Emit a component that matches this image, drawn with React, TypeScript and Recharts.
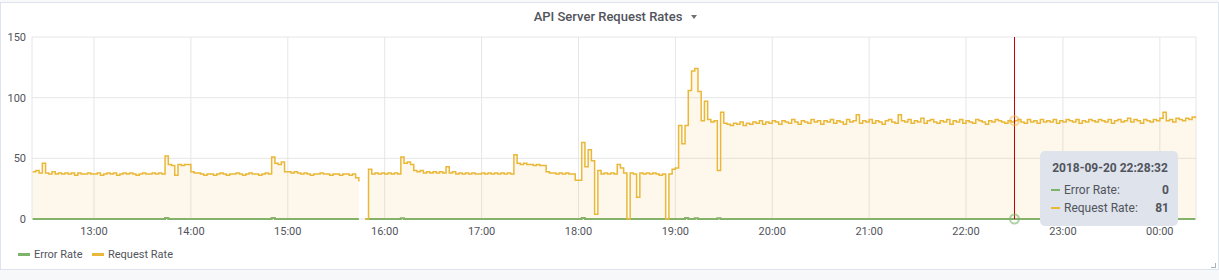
import React from 'react'
import { AreaChart, Area, XAxis, YAxis, CartesianGrid, Tooltip } from 'recharts'

// x values are minutes after 12:00, one sample every 2 minutes (12:22 .. 00:22)
const START_MIN = 22
const STEP_MIN = 2

// requests / s (one row = 1 hour)
const requestRate: (number | null)[] = [
  39, 40, 38, 46, 38, 37, 39, 37, 38, 37, 38, 37, 38, 36, 38, 37, 37, 38, 37, 37, 38, 36, 37, 38, 37, 38, 36, 37, 38, 37,
  38, 37, 36, 37, 38, 37, 37, 38, 37, 38, 37, 52, 45, 44, 36, 45, 44, 45, 45, 39, 38, 38, 37, 36, 37, 37, 36, 37, 38, 37,
  36, 37, 37, 38, 37, 36, 37, 38, 37, 37, 36, 37, 38, 37, 51, 46, 45, 47, 39, 39, 38, 39, 38, 37, 38, 37, 36, 37, 37, 38,
  37, 37, 36, 37, 37, 36, 37, 37, 36, 37, 34, 31, null, 0, 41, 37, 38, 37, 38, 37, 38, 37, 38, 37, 51, 46, 47, 45, 40, 39,
  40, 38, 39, 38, 39, 38, 39, 38, 43, 38, 39, 37, 38, 37, 38, 37, 38, 37, 37, 38, 37, 38, 37, 38, 37, 38, 37, 38, 37, 53,
  46, 45, 46, 45, 45, 44, 45, 44, 44, 39, 38, 38, 37, 38, 37, 38, 37, 37, 32, 32, 63, 43, 57, 48, 4, 40, 37, 38, 37, 38,
  37, 45, 42, 38, 0, 38, 37, 18, 38, 37, 38, 37, 38, 37, 36, 37, 0, 37, 41, 42, 77, 62, 77, 106, 122, 124, 105, 81, 97, 82,
  80, 81, 40, 88, 79, 78, 77, 79, 78, 80, 77, 79, 78, 80, 79, 81, 78, 80, 79, 81, 80, 78, 81, 80, 79, 82, 80, 78, 81, 80,
  79, 82, 80, 81, 78, 81, 80, 82, 79, 81, 80, 78, 82, 80, 81, 86, 79, 81, 80, 82, 79, 81, 80, 78, 81, 82, 80, 79, 86, 81,
  80, 82, 79, 81, 80, 83, 79, 81, 82, 80, 79, 81, 80, 82, 78, 81, 80, 82, 79, 81, 80, 79, 82, 81, 80, 78, 81, 80, 82, 81,
  80, 79, 81, 80, 81, 82, 80, 79, 82, 80, 81, 79, 82, 80, 81, 80, 82, 79, 81, 80, 82, 81, 80, 82, 79, 81, 80, 82, 81, 80,
  82, 81, 80, 82, 79, 81, 82, 80, 81, 83, 80, 82, 81, 79, 82, 81, 80, 82, 81, 83, 88, 81, 82, 80, 83, 82, 81, 83, 82, 84, 83
]

// error rate stays at 0; small blips where the request rate jumps, gap at 15:46
const errorGapAt = [226]
const errorBlips: Record<number, number> = { 104: 0.8, 170: 0.8, 250: 0.6, 362: 0.8, 426: 0.8, 432: 0.6, 446: 0.6 }

const hourTicks = [60, 120, 180, 240, 300, 360, 420, 480, 540, 600, 660, 720]
const valueTicks = [0, 50, 100, 150]

const hoverIndex = 304
const hoverTime = '2018-09-20 22:28:32'

const times = requestRate.map((_, i) => START_MIN + i * STEP_MIN)
const rows = times.map((t, i) => ({
  t,
  error: errorGapAt.includes(t) ? null : errorBlips[t] ?? 0,
  request: requestRate[i]
}))

const FONT = 'Roboto, "Helvetica Neue", Arial, sans-serif'
const TEXT = '#52545c'
const GREEN = '#7EB26D'
const YELLOW = '#EAB839'

const fmtHour = (t: number) => {
  const h = (12 + Math.floor(t / 60)) % 24
  return `${h < 10 ? '0' : ''}${h}:00`
}

const HoverBox = ({ payload }: any) => {
  if (!payload || !payload.length) return null
  return (
    <div
      style={{
        width: 138,
        height: 75,
        boxSizing: 'border-box',
        background: '#dee3ec',
        borderRadius: 5,
        padding: '9px 9px 0 11px',
        fontFamily: FONT,
        fontSize: 12,
        color: TEXT
      }}
    >
      <div style={{ textAlign: 'center', fontWeight: 700, lineHeight: '16px', marginBottom: 5 }}>{hoverTime}</div>
      {payload.map((p: any) => (
        <div key={p.dataKey} style={{ display: 'flex', alignItems: 'center', height: 18 }}>
          <span style={{ width: 9, height: 2, background: p.color, marginRight: 4 }} />
          <span style={{ flex: 1 }}>{p.name}:</span>
          <span style={{ fontWeight: 700 }}>{p.value}</span>
        </div>
      ))}
    </div>
  )
}

const LegendItem = ({ left, color, label }: { left: number; color: string; label: string }) => (
  <div style={{ position: 'absolute', left, top: 246, height: 16, display: 'flex', alignItems: 'center' }}>
    <span style={{ width: 12, height: 3, background: color, marginRight: 4 }} />
    <span style={{ fontSize: 11, color: TEXT, fontFamily: FONT }}>{label}</span>
  </div>
)

export default function App() {
  return (
    <div style={{ position: 'fixed', left: 0, top: 0, width: 1219, height: 280, background: '#f7f8fa', overflow: 'hidden' }}>
      <div
        style={{
          position: 'absolute',
          left: 0,
          top: 2,
          width: 1219,
          height: 268,
          boxSizing: 'border-box',
          border: '1px solid #dde4ed',
          background: '#fff'
        }}
      />
      <div
        style={{
          position: 'absolute',
          left: 0,
          top: 9,
          width: 1216,
          textAlign: 'center',
          fontFamily: FONT,
          fontSize: 13,
          fontWeight: 500,
          lineHeight: '16px',
          color: TEXT
        }}
      >
        API Server Request Rates
      </div>
      <div
        style={{
          position: 'absolute',
          left: 691,
          top: 15,
          width: 0,
          height: 0,
          borderLeft: '3.5px solid transparent',
          borderRight: '3.5px solid transparent',
          borderTop: '4px solid #6e7075'
        }}
      />
      <div style={{ position: 'absolute', left: 0, top: 0 }}>
        <AreaChart width={1219} height={244} data={rows} margin={{ top: 37, right: 23, left: 0, bottom: 5 }}>
          <CartesianGrid stroke="#e6e6e6" />
          <XAxis
            dataKey="t"
            type="number"
            domain={[21.6, 742.4]}
            ticks={hourTicks}
            tickFormatter={fmtHour}
            axisLine={false}
            tickLine={false}
            tickSize={0}
            tickMargin={8}
            height={20}
            tick={{ fill: TEXT, fontSize: 11, fontFamily: FONT }}
          />
          <YAxis
            domain={[0, 150]}
            ticks={valueTicks}
            axisLine={false}
            tickLine={false}
            tickSize={0}
            tickMargin={6}
            width={32}
            tick={{ fill: TEXT, fontSize: 11, fontFamily: FONT }}
          />
          <Tooltip
            active
            defaultIndex={hoverIndex}
            position={{ x: 1040, y: 151 }}
            content={<HoverBox />}
            cursor={{ stroke: '#c00000', strokeWidth: 1 }}
            isAnimationActive={false}
            wrapperStyle={{ outline: 'none', zIndex: 5 }}
          />
          <Area
            type="stepAfter"
            dataKey="error"
            name="Error Rate"
            stroke={GREEN}
            strokeWidth={2}
            fill={GREEN}
            fillOpacity={0.1}
            dot={false}
            activeDot={{ r: 4.5, fill: 'transparent', stroke: GREEN, strokeWidth: 2, strokeOpacity: 0.6 }}
            isAnimationActive={false}
          />
          <Area
            type="stepAfter"
            dataKey="request"
            name="Request Rate"
            stroke={YELLOW}
            strokeWidth={1.5}
            fill={YELLOW}
            fillOpacity={0.1}
            dot={false}
            activeDot={{ r: 4.5, fill: 'transparent', stroke: YELLOW, strokeWidth: 2, strokeOpacity: 0.5 }}
            isAnimationActive={false}
          />
        </AreaChart>
      </div>
      <LegendItem left={18} color={GREEN} label="Error Rate" />
      <LegendItem left={92} color={YELLOW} label="Request Rate" />
      <div
        style={{
          position: 'absolute',
          left: 1211,
          top: 263,
          width: 4,
          height: 4,
          borderRight: '1px solid #aab0b8',
          borderBottom: '1px solid #aab0b8'
        }}
      />
    </div>
  )
}
